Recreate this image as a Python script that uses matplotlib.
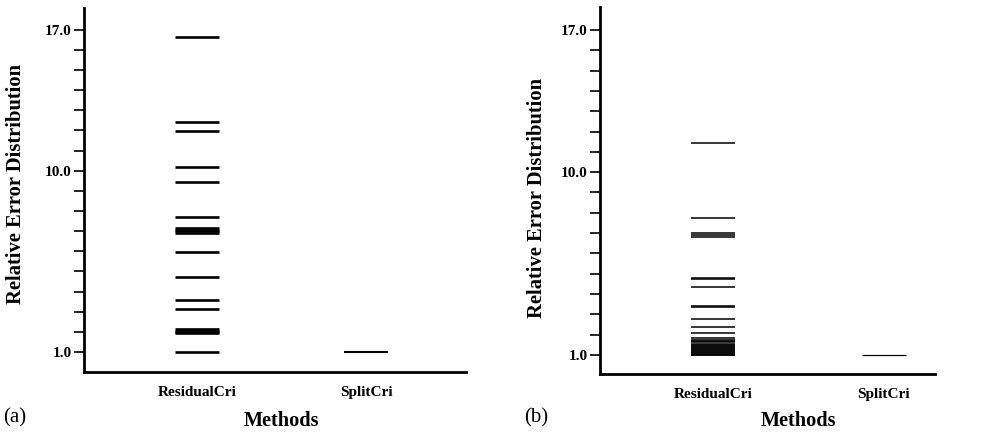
import matplotlib
matplotlib.use("Agg")
import matplotlib.pyplot as plt
import numpy as np

plt.rcParams["font.family"] = ["Liberation Serif", "DejaVu Serif"]

methods = ["ResidualCri", "SplitCri"]
major_ticks = [1.0, 10.0, 17.0]
minor_ticks = list(range(2, 17))

# panel (a): relative error per run
residual_a = [16.65, 12.42, 11.97, 10.2, 9.46, 7.72, 7.15, 7.08, 7.0, 6.92,
              5.98, 4.74, 3.58, 3.13, 2.12, 2.05, 1.98, 1.92, 1.0]
split_a = [1.0]

# panel (b)
residual_b = [11.42, 7.73, 7.02, 6.9, 6.8, 4.8, 4.75, 4.34, 3.42, 3.38, 2.78,
              2.38, 2.08, 1.85, 1.75, 1.7, 1.62, 1.55, 1.5, 1.45, 1.4, 1.35,
              1.3, 1.25, 1.2, 1.15, 1.1, 1.05, 1.02, 1.0]
split_b = [1.0]

fig = plt.figure(figsize=(9.84, 4.34), dpi=100)


def draw_panel(rect, residual, split, xlim, ylim, lw, tag, tag_x, ylab_xy, meth_x):
    ax = fig.add_axes(rect)
    half = 0.13
    ax.hlines(residual, 1 - half, 1 + half, color="black", linewidth=lw)
    ax.hlines(split, 2 - half, 2 + half, color="black", linewidth=lw * 0.8)
    ax.set_xlim(*xlim)
    ax.set_ylim(*ylim)
    ax.set_xticks([1, 2])
    ax.set_xticklabels(methods, fontsize=11, fontweight="bold")
    ax.tick_params(axis="x", length=0, pad=10)
    ax.set_yticks(major_ticks)
    ax.set_yticklabels([f"{v:.1f}" for v in major_ticks], fontsize=11, fontweight="bold")
    ax.set_yticks(minor_ticks, minor=True)
    ax.tick_params(axis="y", which="both", length=7, width=1.2, direction="out", pad=2)
    for side in ("top", "right"):
        ax.spines[side].set_visible(False)
    ax.spines["left"].set_linewidth(2)
    ax.spines["bottom"].set_linewidth(2)
    fig.text(ylab_xy[0] / 984, 1 - ylab_xy[1] / 434, "Relative Error Distribution",
             rotation=90, ha="center", va="center", fontsize=14.8, fontweight="bold")
    fig.text(meth_x, 1 - 421 / 434, "Methods", ha="center", va="center",
             fontsize=14.6, fontweight="bold")
    fig.text(tag_x, 1 - 418 / 434, tag, ha="left", va="center", fontsize=15)
    return ax


draw_panel([84 / 984, 1 - 372 / 434, 382 / 984, 364 / 434],
           residual_a, split_a, (0.331, 2.59), (0.007, 18.08), 1.9, "(a)",
           3 / 984, (16, 183.5), 281 / 984)
draw_panel([600 / 984, 1 - 374.3 / 434, 335 / 984, 367.3 / 434],
           residual_b, split_b, (0.336, 2.30), (0.05, 18.13), 1.1, "(b)",
           524 / 984, (537, 197.5), 798 / 984)

fig.savefig("out.png", dpi=100)
